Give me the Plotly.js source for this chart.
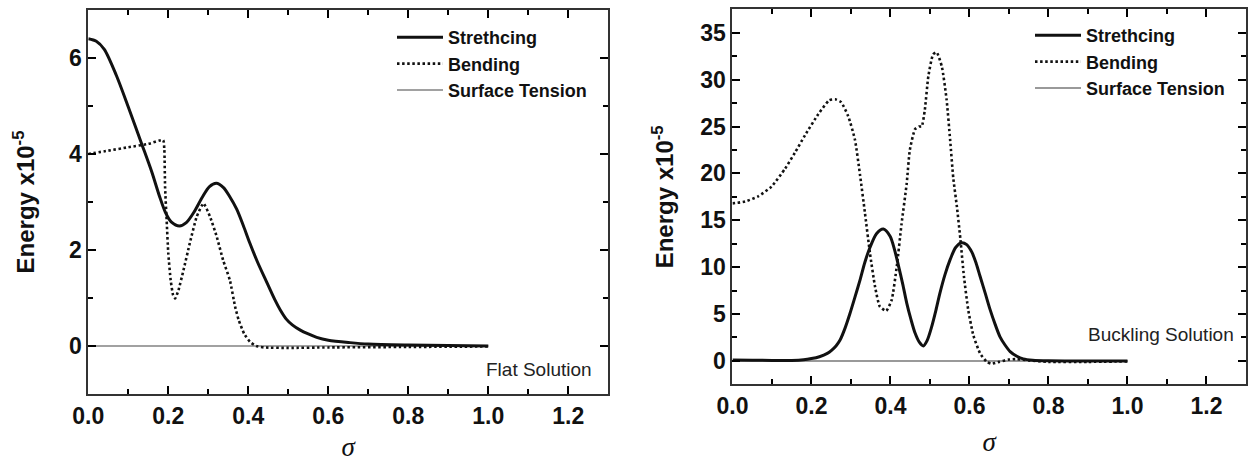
<!DOCTYPE html>
<html>
<head>
<meta charset="utf-8">
<script src="https://cdn.plot.ly/plotly-3.0.1.min.js"></script>
<style>
html,body{margin:0;padding:0;background:#fff;}
#chart{width:1256px;height:462px;}
</style>
</head>
<body>
<div id="chart"></div>
<script>
// ---- Data ----
const seriesNames = ["Strethcing", "Bending", "Surface Tension"];
const panelLabels = ["Flat Solution", "Buckling Solution"];

// Flat solution (left panel)
const flatStretchX = [0, 0.02, 0.04, 0.07, 0.10, 0.134, 0.159, 0.178, 0.193, 0.208, 0.228, 0.245, 0.265, 0.285, 0.303, 0.32, 0.338, 0.353, 0.371, 0.387, 0.404, 0.423, 0.446, 0.466, 0.48, 0.495, 0.51, 0.53, 0.55, 0.571, 0.60, 0.654, 0.70, 0.80, 0.90, 1.0];
const flatStretchY = [6.40, 6.35, 6.18, 5.64, 4.98, 4.20, 3.62, 3.12, 2.78, 2.58, 2.50, 2.57, 2.80, 3.10, 3.32, 3.39, 3.30, 3.12, 2.85, 2.52, 2.14, 1.75, 1.33, 0.97, 0.75, 0.56, 0.44, 0.33, 0.25, 0.18, 0.12, 0.07, 0.04, 0.02, 0.01, 0.0];

const flatBendX = [0, 0.05, 0.10, 0.15, 0.187, 0.19, 0.192, 0.196, 0.20, 0.206, 0.212, 0.217, 0.225, 0.238, 0.254, 0.271, 0.288, 0.304, 0.321, 0.337, 0.354, 0.367, 0.376, 0.39, 0.405, 0.42, 0.44, 0.50, 0.60, 0.80, 1.0];
const flatBendY = [4.00, 4.07, 4.14, 4.21, 4.29, 4.10, 3.30, 2.60, 1.93, 1.37, 1.06, 0.99, 1.15, 1.58, 2.15, 2.69, 2.97, 2.70, 2.28, 1.79, 1.37, 0.82, 0.54, 0.25, 0.08, 0.0, -0.03, -0.04, -0.03, -0.02, -0.01];

const flatTensionX = [0, 0.25, 0.5, 0.75, 1.0];
const flatTensionY = [0, 0, 0, 0, 0];

// Buckling solution (right panel)
const buckStretchX = [0, 0.05, 0.10, 0.15, 0.18, 0.20, 0.22, 0.24, 0.25, 0.262, 0.272, 0.285, 0.297, 0.31, 0.323, 0.335, 0.348, 0.365, 0.382, 0.399, 0.41, 0.42, 0.431, 0.441, 0.452, 0.462, 0.473, 0.483, 0.493, 0.504, 0.515, 0.525, 0.538, 0.551, 0.565, 0.58, 0.593, 0.606, 0.617, 0.627, 0.64, 0.652, 0.665, 0.677, 0.69, 0.703, 0.72, 0.736, 0.76, 0.80, 0.9, 1.0];
const buckStretchY = [0.10, 0.08, 0.05, 0.05, 0.12, 0.25, 0.45, 0.80, 1.10, 1.60, 2.20, 3.50, 5.00, 6.80, 8.65, 10.5, 12.1, 13.6, 14.07, 13.3, 11.9, 10.2, 8.2, 6.2, 4.4, 3.0, 2.0, 1.6, 2.2, 3.6, 5.4, 7.2, 9.2, 10.8, 12.1, 12.6, 12.4, 11.6, 10.4, 9.0, 7.2, 5.5, 3.9, 2.6, 1.7, 1.0, 0.5, 0.22, 0.08, 0.02, 0.0, 0.0];

const buckBendX = [0, 0.032, 0.065, 0.099, 0.133, 0.158, 0.184, 0.217, 0.245, 0.26, 0.275, 0.293, 0.31, 0.323, 0.335, 0.348, 0.361, 0.373, 0.389, 0.403, 0.416, 0.428, 0.441, 0.449, 0.462, 0.472, 0.479, 0.487, 0.496, 0.508, 0.517, 0.53, 0.542, 0.551, 0.559, 0.568, 0.577, 0.586, 0.597, 0.61, 0.627, 0.644, 0.655, 0.675, 0.70, 0.72, 0.75, 0.80, 0.90, 1.0];
const buckBendY = [16.8, 17.0, 17.55, 18.6, 20.5, 22.2, 24.1, 26.3, 27.8, 27.9, 27.6, 26.1, 23.6, 19.8, 15.9, 11.5, 7.9, 5.8, 5.34, 6.5, 10.1, 14.6, 18.9, 22.5, 24.7, 25.0, 25.0, 26.8, 30.4, 32.7, 32.9, 31.4, 27.9, 23.6, 19.5, 16.5, 13.0, 9.0, 5.4, 2.7, 0.8, -0.1, -0.3, -0.1, 0.15, 0.2, 0.05, -0.1, -0.1, -0.05];

const buckTensionX = [0, 0.25, 0.5, 0.75, 1.0];
const buckTensionY = [0, 0, 0, 0, 0];

// ---- Styling ----
const SANS = "Liberation Sans, Arial, sans-serif";
const SERIF = "Liberation Serif, Times New Roman, serif";
const dotDash = "2.5px,2.6px";
const xRange = [0, 1.3];
const flatYRange = [-1, 7];
const buckYRange = [-2.5, 37.5];

const traces = [
  {x: flatTensionX, y: flatTensionY, name: seriesNames[2], mode: "lines", line: {color: "#444", width: 1.2}, xaxis: "x", yaxis: "y", legend: "legend", legendrank: 3},
  {x: flatBendX, y: flatBendY, name: seriesNames[1], mode: "lines", line: {color: "#111", width: 2.6, dash: dotDash, shape: "spline", smoothing: 0.5}, xaxis: "x", yaxis: "y", legend: "legend", legendrank: 2},
  {x: flatStretchX, y: flatStretchY, name: seriesNames[0], mode: "lines", line: {color: "#111", width: 3, shape: "spline", smoothing: 0.8}, xaxis: "x", yaxis: "y", legend: "legend", legendrank: 1},
  {x: buckTensionX, y: buckTensionY, name: seriesNames[2], mode: "lines", line: {color: "#777", width: 1.5}, xaxis: "x2", yaxis: "y2", legend: "legend2", legendrank: 3},
  {x: buckBendX, y: buckBendY, name: seriesNames[1], mode: "lines", line: {color: "#111", width: 2.6, dash: dotDash, shape: "spline", smoothing: 0.5}, xaxis: "x2", yaxis: "y2", legend: "legend2", legendrank: 2},
  {x: buckStretchX, y: buckStretchY, name: seriesNames[0], mode: "lines", line: {color: "#111", width: 3, shape: "spline", smoothing: 0.8}, xaxis: "x2", yaxis: "y2", legend: "legend2", legendrank: 1},
  // empty helpers so the tick-only top/right axes get their subplots
  {x: [], y: [], mode: "lines", showlegend: false, hoverinfo: "skip", xaxis: "x3", yaxis: "y"},
  {x: [], y: [], mode: "lines", showlegend: false, hoverinfo: "skip", xaxis: "x", yaxis: "y3"},
  {x: [], y: [], mode: "lines", showlegend: false, hoverinfo: "skip", xaxis: "x4", yaxis: "y2"},
  {x: [], y: [], mode: "lines", showlegend: false, hoverinfo: "skip", xaxis: "x2", yaxis: "y4"}
];

const tickStyle = {ticks: "inside", ticklen: 8, tickwidth: 2, tickcolor: "#000"};
function xAxis(domain, anchor, standoff) {
  return Object.assign({
    domain: domain, anchor: anchor, range: xRange, dtick: 0.2, tickformat: ".1f",
    minor: {dtick: 0.1, ticks: "inside", ticklen: 5, tickwidth: 2, tickcolor: "#000"},
    showline: true, linewidth: 2, linecolor: "#333", mirror: true,
    showgrid: false, zeroline: false,
    tickfont: {family: SANS, size: 23, color: "#111", weight: "bold"},
    title: {text: "<i>σ</i>", font: {family: SERIF, size: 27, color: "#111"}, standoff: standoff}
  }, tickStyle);
}
function yAxis(domain, anchor, range, dtick, standoff) {
  return Object.assign({
    domain: domain, anchor: anchor, range: range, dtick: dtick,
    minor: {dtick: dtick / 2, ticks: "inside", ticklen: 5, tickwidth: 2, tickcolor: "#000"},
    showline: true, linewidth: 2, linecolor: "#333", mirror: true,
    showgrid: false, zeroline: false,
    tickfont: {family: SANS, size: 23, color: "#111", weight: "bold"},
    title: {text: "Energy x10<sup>-5</sup>", font: {family: SANS, size: 24, color: "#111", weight: "bold"}, standoff: standoff}
  }, tickStyle);
}
// tick-only companion axes for the top and right edges
function topAxis(over, anchor, dtick) {
  return Object.assign({overlaying: over, anchor: anchor, side: "top", range: xRange, dtick: dtick,
    minor: {dtick: dtick / 2, ticks: "inside", ticklen: 5, tickwidth: 2, tickcolor: "#000"},
    showticklabels: false, showline: false, showgrid: false, zeroline: false}, tickStyle);
}
function rightAxis(over, anchor, range, dtick) {
  return Object.assign({overlaying: over, anchor: anchor, side: "right", range: range, dtick: dtick,
    minor: {dtick: dtick / 2, ticks: "inside", ticklen: 5, tickwidth: 2, tickcolor: "#000"},
    showticklabels: false, showline: false, showgrid: false, zeroline: false}, tickStyle);
}

const legendFont = {family: SANS, size: 18, color: "#111", weight: "bold"};
const layout = {
  width: 1256, height: 462,
  margin: {l: 0, r: 0, t: 0, b: 0},
  paper_bgcolor: "#fff", plot_bgcolor: "rgba(0,0,0,0)",
  showlegend: true,
  xaxis: xAxis([0.0703, 0.4843], "y", 18),
  yaxis: yAxis([0.1472, 0.9784], "x", flatYRange, 2, 27),
  xaxis2: xAxis([0.5832, 0.9920], "y2", 14),
  yaxis2: yAxis([0.168, 0.9799], "x2", buckYRange, 5, 20),
  xaxis3: topAxis("x", "y", 0.2),
  yaxis3: rightAxis("y", "x", flatYRange, 2),
  xaxis4: topAxis("x2", "y2", 0.2),
  yaxis4: rightAxis("y2", "x2", buckYRange, 5),
  legend: {x: 392 / 1256, y: 1 - 19 / 462, xanchor: "left", yanchor: "top", bgcolor: "rgba(0,0,0,0)", borderwidth: 0, font: legendFont, itemwidth: 46, traceorder: "normal"},
  legend2: {x: 1030 / 1256, y: 1 - 17 / 462, xanchor: "left", yanchor: "top", bgcolor: "rgba(0,0,0,0)", borderwidth: 0, font: legendFont, itemwidth: 46, traceorder: "normal"},
  annotations: [
    {text: panelLabels[0], xref: "x", yref: "y", x: 1.264, y: -0.5, xanchor: "right", yanchor: "middle", showarrow: false, font: {family: SANS, size: 19, color: "#222"}},
    {text: panelLabels[1], xref: "x2", yref: "y2", x: 1.275, y: 2.78, xanchor: "right", yanchor: "middle", showarrow: false, font: {family: SANS, size: 19, color: "#222"}}
  ]
};

Plotly.newPlot("chart", traces, layout, {displayModeBar: false});
</script>
</body>
</html>
